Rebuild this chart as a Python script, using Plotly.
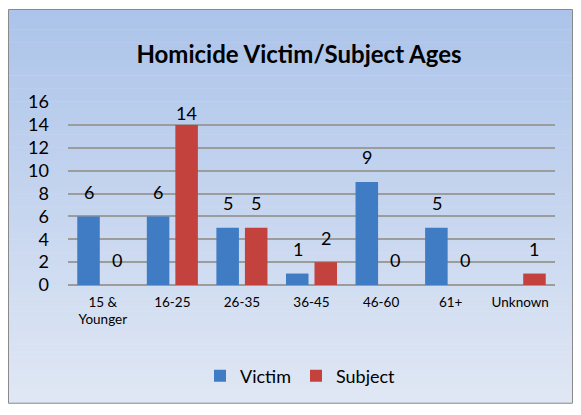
import plotly.graph_objects as go

categories = ["15 &<br>Younger", "16-25", "26-35", "36-45", "46-60", "61+", "Unknown"]
victim = [6, 6, 5, 1, 9, 5, None]
subject = [0, 14, 5, 2, 0, 0, 1]

# page body has an 8px margin, so work in reference pixels and shift by 8
OFF = 8
W, H = 581 - 2 * OFF, 415 - 2 * OFF
PX_L, PX_R, PX_T, PX_B = 68, 555, 102, 287  # plot area in reference px
L, R = PX_L - OFF, W - (PX_R - OFF)
T, B = PX_T - OFF, H - (PX_B - OFF)
PW, PH = PX_R - PX_L, PX_B - PX_T


def px_x(px):
    return (px - PX_L) / PW


def px_y(py):
    return (PX_B - py) / PH


def mix(c1, c2, t):
    return "rgb(%d,%d,%d)" % tuple(round(a + (b - a) * t) for a, b in zip(c1, c2))


fig = go.Figure()

fig.add_trace(go.Bar(
    x=categories, y=victim, name="Victim",
    marker=dict(color="#3f7cc4", line=dict(width=0)),
))
fig.add_trace(go.Bar(
    x=categories, y=subject, name="Subject",
    marker=dict(color="#c4423e", line=dict(width=0)),
))

# background gradient (chart area) drawn as thin strips
shapes = []
top_c, bot_c = (172, 196, 234), (224, 231, 244)
y_top, y_bot = 8.5, 406.5
n = 60
for i in range(n):
    a = y_top + (y_bot - y_top) * i / n
    b = y_top + (y_bot - y_top) * (i + 1) / n
    shapes.append(dict(
        type="rect", xref="paper", yref="paper", layer="below",
        x0=px_x(8.5), x1=px_x(572.5), y0=px_y(b + 0.5), y1=px_y(a),
        fillcolor=mix(top_c, bot_c, i / (n - 1)), line=dict(width=0),
    ))
shapes.append(dict(
    type="rect", xref="paper", yref="paper", layer="below",
    x0=px_x(8.5), x1=px_x(572.5), y0=px_y(406.5), y1=px_y(8.5),
    line=dict(color="#8a8a8a", width=1), fillcolor="rgba(0,0,0,0)",
))

# value labels above bars
annotations = []
for series, shift in ((victim, -14), (subject, 14)):
    for cat, v in zip(categories, series):
        if v is None:
            continue
        annotations.append(dict(
            x=cat, y=min(v + 2.15, 15.0), xref="x", yref="y",
            text=str(v), showarrow=False, xshift=shift,
            font=dict(size=18, color="#000000"),
        ))

fig.update_layout(
    width=W, height=H,
    margin=dict(l=L, r=R, t=T, b=B),
    paper_bgcolor="white",
    plot_bgcolor="white",
    font=dict(family="Lato, Liberation Sans, sans-serif", color="#000000"),
    title=dict(
        text="<b>Homicide Victim/Subject Ages</b>",
        x=px_x(299), xref="paper", xanchor="center",
        y=1 - (55 - OFF) / H, yanchor="middle",
        font=dict(size=24, color="#000000"),
    ),
    barmode="group",
    bargap=0.18,
    bargroupgap=0.21,
    showlegend=True,
    legend=dict(
        orientation="h", x=px_x(200), xanchor="left",
        y=px_y(379), yanchor="middle",
        font=dict(size=18), bgcolor="rgba(0,0,0,0)",
        itemwidth=30, traceorder="normal",
    ),
    xaxis=dict(
        showgrid=False, ticks="", showline=False,
        tickfont=dict(size=13.5), ticklabelstandoff=7,
    ),
    yaxis=dict(
        range=[0, 16], dtick=2, showgrid=True,
        gridcolor="#9c9c9c", gridwidth=1.6,
        zeroline=True, zerolinecolor="#9c9c9c", zerolinewidth=1.6,
        tickfont=dict(size=18), ticks="", ticklabelstandoff=18,
    ),
    shapes=shapes,
    annotations=annotations,
)

fig.write_html("out.html")
